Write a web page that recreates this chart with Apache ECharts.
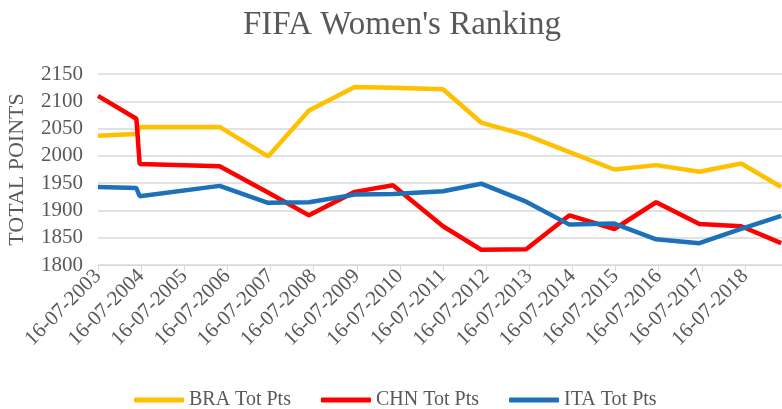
<!DOCTYPE html>
<html>
<head>
<meta charset="utf-8">
<script src="https://cdn.jsdelivr.net/npm/echarts@6/dist/echarts.min.js"></script>
<style>
  html, body { margin: 0; padding: 0; background: #fff; }
  #chart { width: 782px; height: 409px; }
</style>
</head>
<body>
<div id="chart"></div>
<script>
// ranking release dates
var dates = ['2003-07-16', '2004-06-05', '2004-07-03', '2006-05-11', '2007-06-25',
  '2008-06-06', '2009-06-28', '2010-05-18', '2011-07-16', '2012-06-03', '2013-06-19',
  '2014-06-21', '2015-07-06', '2016-06-24', '2017-06-25', '2018-06-14', '2019-05-19'];

var braPts = [2037, 2040, 2053, 2053, 1999, 2083, 2126, 2125, 2122, 2061, 2038,
  2007, 1975, 1983, 1971, 1986, 1943];
var chnPts = [2110, 2068, 1985, 1981, 1933, 1891, 1934, 1946, 1871, 1828, 1829,
  1891, 1866, 1915, 1875, 1871, 1840];
var itaPts = [1943, 1941, 1926, 1945, 1914, 1915, 1929, 1930, 1935, 1949, 1916,
  1874, 1876, 1847, 1840, 1866, 1890];

var seriesNames = ['BRA Tot Pts', 'CHN Tot Pts', 'ITA Tot Pts'];
var colors = ['#FFC000', '#FF0000', '#1C71B8'];

// x axis counts years since the first ranking (16-07-2003)
var startYear = 2003;
var t0 = Date.parse('2003-07-16T00:00:00Z');
var YEAR = 365.25 * 86400000;
function yearsSince(d) {
  return (Date.parse(d + 'T00:00:00Z') - t0) / YEAR;
}
function pairs(vals) {
  return vals.map(function (v, i) { return [yearsSince(dates[i]), v]; });
}

var font = 'Liberation Serif';
var grey = '#595959';

var chart = echarts.init(document.getElementById('chart'));
chart.setOption({
  animation: false,
  color: colors,
  textStyle: { fontFamily: font },
  title: {
    text: "FIFA Women's Ranking",
    left: 243,
    top: 9,
    padding: 0,
    textStyle: { fontFamily: font, fontSize: 33, fontWeight: 'normal', color: grey }
  },
  legend: {
    left: 134,
    top: 390,
    padding: 0,
    icon: 'roundRect',
    itemWidth: 50,
    itemHeight: 5,
    itemGap: 30,
    textStyle: { fontFamily: font, fontSize: 20, color: grey },
    data: seriesNames
  },
  grid: {
    left: 98,
    top: 74,
    right: 0,
    bottom: 144,
    containLabel: false,
    outerBoundsMode: 'none'
  },
  xAxis: {
    type: 'value',
    min: 0,
    max: 15.86,
    interval: 1,
    splitLine: { show: false },
    axisLine: { lineStyle: { color: '#d9d9d9', width: 1 } },
    axisTick: { show: true, length: 6, lineStyle: { color: '#d9d9d9' } },
    axisLabel: {
      rotate: 45,
      margin: 8,
      fontFamily: font,
      fontSize: 21,
      color: grey,
      showMaxLabel: false,
      formatter: function (v) {
        if (Math.abs(v - Math.round(v)) > 1e-6) return '';
        return '16-07-' + (startYear + Math.round(v));
      }
    }
  },
  yAxis: {
    type: 'value',
    min: 1800,
    max: 2150,
    interval: 50,
    name: 'TOTAL POINTS',
    nameLocation: 'middle',
    nameGap: 70,
    nameTextStyle: { fontFamily: font, fontSize: 22, color: grey },
    axisLine: { show: false },
    axisTick: { show: false },
    splitLine: { lineStyle: { color: '#d9d9d9', width: 1.5 } },
    axisLabel: {
      margin: 15,
      fontFamily: font,
      fontSize: 21,
      color: grey,
      formatter: function (v) { return String(v); }
    }
  },
  series: [
    { name: seriesNames[0], type: 'line', data: pairs(braPts), symbol: 'none', lineStyle: { width: 4.5 } },
    { name: seriesNames[1], type: 'line', data: pairs(chnPts), symbol: 'none', lineStyle: { width: 4.5 } },
    { name: seriesNames[2], type: 'line', data: pairs(itaPts), symbol: 'none', lineStyle: { width: 4.5 } }
  ]
});
</script>
</body>
</html>
